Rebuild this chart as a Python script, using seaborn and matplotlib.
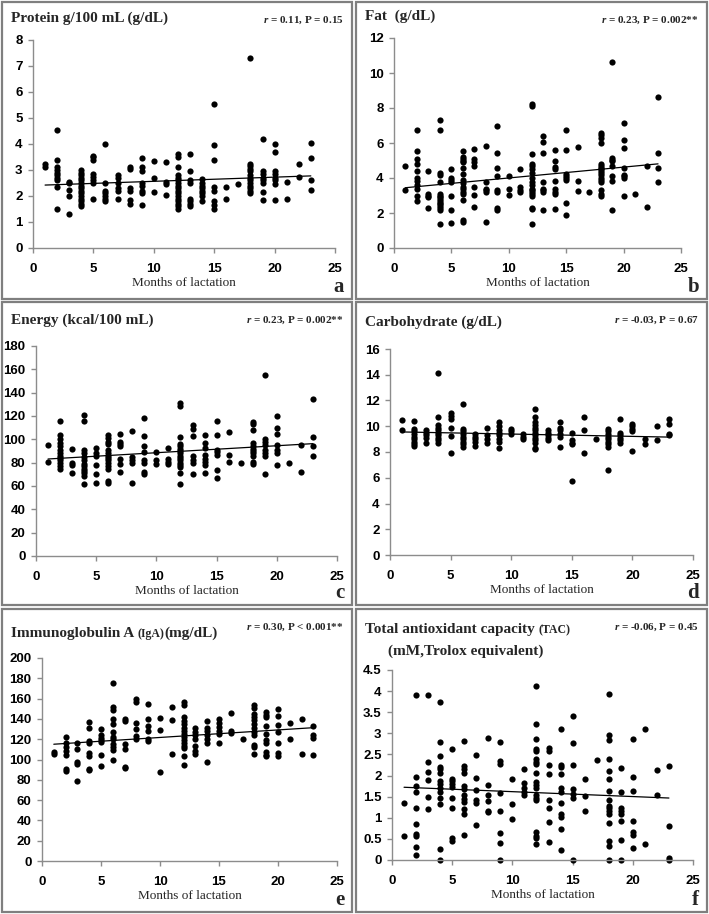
import numpy as np
import pandas as pd
import seaborn as sns
import matplotlib.pyplot as plt
from matplotlib.patches import Rectangle

# Values read per month of lactation
months = list(range(1, 24))

protein = [
    [3.25, 3.1], [4.55, 3.4, 3.1, 3.0, 2.9, 2.8, 2.7, 2.6, 2.35, 1.5], [2.55, 2.5, 2.25, 2.0, 1.3],
    [3.0, 2.9, 2.8, 2.7, 2.6, 2.5, 2.4, 2.3, 2.2, 2.1, 2.0, 1.9, 1.8, 1.7, 1.6],
    [3.55, 3.5, 3.4, 2.85, 2.75, 2.6, 2.5, 1.9], [4.0, 2.5, 2.2, 2.1, 2.0, 1.9, 1.8],
    [2.8, 2.7, 2.5, 2.3, 2.2, 1.9], [3.1, 3.05, 2.3, 2.2, 1.85, 1.7],
    [3.45, 3.1, 2.95, 2.5, 2.4, 2.2, 2.1, 1.65], [3.35, 2.7, 2.15], [3.3, 2.55, 2.45, 2.05],
    [3.6, 3.5, 3.1, 2.8, 2.7, 2.6, 2.5, 2.4, 2.3, 2.2, 2.1, 2.0, 1.9, 1.8, 1.7, 1.6, 1.5],
    [3.6, 2.95, 2.6, 2.5, 1.9, 1.8, 1.7, 1.6], [2.65, 2.5, 2.4, 2.3, 2.2, 2.1, 2.0, 1.8],
    [5.55, 3.95, 3.4, 2.35, 2.2, 1.8, 1.65, 1.5], [2.35, 1.9], [2.45],
    [7.3, 3.25, 3.15, 3.05, 2.95, 2.8, 2.7, 2.6, 2.5, 2.4, 2.3, 2.2, 2.1],
    [4.2, 2.95, 2.85, 2.7, 2.6, 2.5, 2.15, 1.85], [4.0, 3.7, 2.95, 2.85, 2.7, 2.6, 2.45, 1.85],
    [2.55, 1.9], [3.25, 2.75], [4.05, 3.45, 2.6, 2.25],
]

fat = [
    [4.7, 3.3], [6.75, 5.55, 5.1, 4.8, 4.4, 4.0, 3.85, 3.6, 3.35, 3.0, 2.7], [4.4, 3.1, 3.0, 2.9, 2.3],
    [7.3, 6.75, 4.3, 4.2, 3.8, 3.1, 3.0, 2.9, 2.8, 2.7, 2.6, 2.5, 2.4, 2.3, 2.2, 1.35],
    [4.5, 4.0, 3.9, 3.8, 3.0, 2.15, 1.45],
    [5.55, 5.2, 5.1, 5.0, 4.9, 4.6, 4.25, 3.9, 3.7, 3.5, 3.4, 3.2, 3.1, 2.75, 1.6, 1.5],
    [5.65, 5.1, 4.9, 4.7, 3.5, 3.05, 2.35], [5.85, 3.8, 3.4, 3.3, 3.2, 1.5],
    [7.0, 5.45, 4.6, 4.1, 3.3, 3.2, 2.3, 2.2], [4.1, 3.4, 3.05], [4.5, 3.5, 3.3, 3.2],
    [8.25, 8.1, 5.35, 4.8, 4.7, 4.5, 4.3, 4.0, 3.8, 3.6, 3.4, 3.3, 3.2, 3.1, 3.0, 2.3, 2.25, 1.4],
    [6.4, 6.05, 5.45, 3.8, 3.4, 3.3, 3.2, 2.2], [5.6, 5.0, 4.65, 4.5, 3.85, 3.4, 3.2, 3.1, 2.25],
    [6.75, 5.6, 4.25, 4.1, 4.0, 3.9, 2.6, 1.9], [5.75, 3.85, 3.25], [3.2],
    [6.6, 6.45, 6.3, 6.0, 4.8, 4.7, 4.6, 4.5, 4.4, 4.3, 4.2, 4.0, 3.9, 3.8, 3.3, 3.1, 3.0],
    [10.65, 5.15, 5.05, 4.95, 4.7, 4.1, 3.85, 2.15], [7.15, 6.15, 5.7, 4.6, 4.2, 4.1, 4.0, 3.0],
    [3.1], [4.7, 2.35], [8.65, 5.45, 4.6, 3.8],
]

energy = [
    [95, 81], [116, 104, 100, 97, 94, 91, 88, 86, 84, 82, 80, 77, 75], [92, 80, 78, 71],
    [121, 116, 91, 88, 85, 82, 79, 77, 75, 73, 71, 69, 62], [93, 88, 86, 78, 70, 63],
    [104, 101, 98, 96, 91, 88, 86, 84, 82, 80, 77, 75, 64, 63], [105, 98, 96, 94, 83, 79, 72],
    [107, 85, 82, 80, 63], [118, 103, 94, 89, 82, 80, 72, 70], [89, 82, 79], [93, 83, 81, 79],
    [131, 129, 102, 96, 94, 92, 90, 88, 86, 84, 82, 80, 78, 76, 71, 62],
    [112, 109, 103, 86, 82, 80, 70], [104, 97, 93, 87, 83, 81, 78, 71],
    [116, 104, 91, 89, 87, 74, 67], [106, 87, 81], [80],
    [115, 113, 108, 97, 94, 92, 90, 88, 86, 81, 79], [155, 100, 98, 95, 91, 88, 86, 70],
    [120, 110, 105, 95, 91, 88, 78], [80], [95, 72], [135, 102, 94, 86],
]

carbohydrate = [
    [10.5, 9.7], [10.4, 9.8, 9.6, 9.4, 9.2, 9.0, 8.8, 8.6, 8.5], [9.7, 9.5, 9.3, 9.1, 8.7],
    [14.1, 10.7, 10.1, 9.9, 9.7, 9.5, 9.3, 9.1, 8.9, 8.7], [11.0, 10.8, 10.6, 9.85, 9.25, 7.95],
    [11.7, 9.8, 9.6, 9.4, 9.2, 9.0, 8.8, 8.6, 8.4], [9.4, 9.2, 9.0, 8.8, 8.5], [9.9, 9.3, 9.0, 8.7],
    [10.3, 10.0, 9.7, 9.5, 9.3, 9.0, 8.8, 8.3], [9.8, 9.6, 9.4], [9.4, 9.2, 9.0],
    [11.35, 10.7, 10.3, 10.1, 9.9, 9.7, 9.5, 9.3, 9.1, 8.9, 8.7, 8.3, 8.2],
    [9.7, 9.5, 9.3, 9.1, 8.9], [10.3, 9.9, 9.7, 9.4, 9.2, 8.4], [9.5, 8.9, 8.7, 8.6, 5.75],
    [10.7, 9.7, 7.9], [9.0], [9.8, 9.6, 9.4, 9.2, 9.0, 8.8, 8.6, 8.4, 6.6],
    [10.6, 9.5, 9.3, 9.1, 8.9, 8.7], [10.2, 10.0, 9.8, 9.6, 8.05], [9.0, 8.65], [10.0, 8.95],
    [10.6, 10.2, 9.4, 9.3],
]

iga = [
    [107, 105], [122, 116, 112, 108, 104, 91, 89], [116, 110, 98, 96, 79],
    [137, 131, 118, 116, 106, 103, 91, 90], [130, 124, 121, 119, 117, 104, 94],
    [175, 152, 149, 140, 135, 127, 122, 120, 115, 112, 109, 100], [140, 138, 115, 110, 93, 92],
    [160, 157, 136, 130, 123, 120], [155, 140, 133, 128, 120, 118], [141, 129, 88], [152, 139, 105],
    [157, 154, 142, 138, 135, 131, 128, 125, 122, 119, 116, 113, 111, 103, 95],
    [131, 127, 124, 120, 113, 108, 105], [138, 131, 128, 124, 120, 116, 98],
    [140, 136, 132, 128, 125, 116], [146, 128, 126], [120],
    [154, 151, 145, 142, 139, 135, 131, 127, 124, 114, 112, 105],
    [147, 144, 142, 133, 125, 119, 116, 107, 104, 103], [150, 143, 134, 127, 116, 106, 103],
    [136, 120], [140, 105], [133, 124, 121, 104],
]

tac = [
    [1.35, 0.57], [3.9, 1.97, 1.75, 1.6, 1.23, 0.86, 0.62, 0.57, 0.3, 0.13],
    [3.9, 2.32, 2.08, 1.9, 1.5, 1.21],
    [3.75, 2.8, 2.46, 2.2, 2.15, 2.05, 1.87, 1.8, 1.7, 1.62, 1.48, 1.33, 0.26, 0.0],
    [2.62, 1.93, 1.87, 1.8, 1.72, 1.47, 1.24, 0.52, 0.46],
    [2.82, 2.23, 2.15, 2.05, 1.75, 1.68, 1.55, 1.45, 1.37, 1.2, 1.08, 0.6],
    [2.48, 1.94, 1.65, 1.43, 1.35, 0.82], [2.9, 1.77, 1.53, 1.4, 1.17, 1.13],
    [2.79, 2.35, 2.28, 1.58, 1.16, 0.63, 0.41, 0.0], [1.92, 1.33, 0.96], [2.16, 1.82, 1.7, 1.62, 1.55],
    [4.12, 3.21, 2.87, 2.62, 2.57, 2.4, 2.33, 2.28, 2.05, 1.85, 1.78, 1.7, 1.55, 1.47, 1.42,
     0.66, 0.58, 0.52, 0.37],
    [2.66, 2.57, 2.26, 2.04, 1.42, 1.23, 0.9, 0.43],
    [3.1, 2.26, 2.2, 2.03, 1.7, 1.6, 1.35, 1.1, 1.03, 0.74, 0.23],
    [3.41, 2.77, 2.26, 1.68, 1.57, 1.48, 0.0], [1.92, 1.52, 1.16], [2.36],
    [3.93, 2.97, 2.84, 2.4, 2.1, 1.93, 1.63, 1.42, 1.28, 1.22, 1.15, 1.1, 0.88, 0.45, 0.32, 0.0],
    [2.17, 1.6, 1.22, 1.16, 1.1, 0.93, 0.47, 0.0], [2.87, 1.97, 1.64, 0.93, 0.66, 0.6, 0.29],
    [3.1, 0.38], [2.14, 1.53], [2.23, 0.8, 0.04, 0.0],
]

stats = ['= 0.11, P = 0.15', '= 0.23, P = 0.002**', '= 0.23, P = 0.002**',
         '= -0.03, P = 0.67', '= 0.30, P < 0.001**', '= -0.06, P = 0.45']
letters = ['a', 'b', 'c', 'd', 'e', 'f']
y_limits = [(0, 8, 1), (0, 12, 2), (0, 180, 20), (0, 16, 2), (0, 200, 20), (0, 4.5, 0.5)]


def to_frame(values):
    rows = [(m, v) for m, vals in zip(months, values) for v in vals]
    return pd.DataFrame(rows, columns=['month', 'value'])


sns.set_style('ticks')
plt.rcParams['mathtext.fontset'] = 'custom'
plt.rcParams['mathtext.it'] = 'Liberation Serif:italic:bold'
plt.rcParams['mathtext.rm'] = 'Liberation Serif:bold'

W, H = 709, 914
fig = plt.figure(figsize=(W / 100, H / 100), dpi=100)

# panel boxes (pixels: left, top, right, bottom)
boxes = [(2, 2, 352, 299), (356, 2, 707, 299),
         (2, 302, 352, 605), (356, 302, 707, 605),
         (2, 609, 352, 912), (356, 609, 707, 912)]
# axes areas (pixels: left, top, right, bottom)
areas = [(33, 40, 335, 248), (394, 38, 681, 248),
         (36, 346, 337, 556), (390, 349, 693, 555),
         (42, 658, 337, 861), (392, 670, 693, 860)]

for bx in boxes:
    fig.patches.append(Rectangle((bx[0] / W, 1 - bx[3] / H), (bx[2] - bx[0]) / W, (bx[3] - bx[1]) / H,
                                 transform=fig.transFigure, fill=False, edgecolor='#7f7f7f', linewidth=1.6))

datasets = [protein, fat, energy, carbohydrate, iga, tac]
serif = 'Liberation Serif'
tick_font = dict(fontfamily='Liberation Sans', fontweight='bold', fontsize=9.5)
for i, (data, area, bx) in enumerate(zip(datasets, areas, boxes)):
    l, t, r, b = area
    ax = fig.add_axes([l / W, 1 - b / H, (r - l) / W, (b - t) / H])
    df = to_frame(data)
    sns.regplot(data=df, x='month', y='value', ax=ax, ci=None, color='black',
                scatter_kws={'s': 20, 'linewidths': 0, 'alpha': 1},
                line_kws={'linewidth': 0.9, 'color': 'black'})
    lo, hi, step = y_limits[i]
    ax.set_xlim(0, 25)
    ax.set_ylim(lo, hi)
    ax.set_xlabel('')
    ax.set_ylabel('')
    for c in ax.collections:
        c.set_clip_on(False)
    sns.despine(ax=ax)
    for s in ['left', 'bottom']:
        ax.spines[s].set_color('#8c8c8c')
        ax.spines[s].set_linewidth(1.0)
    ax.tick_params(colors='#8c8c8c', length=3.5, width=1.0, labelcolor='black')
    ax.tick_params(axis='x', pad=7)
    ax.tick_params(axis='y', pad=4)
    xt = list(range(0, 26, 5))
    yt = np.arange(lo, hi + step / 2, step)
    ax.set_xticks(xt, [str(v) for v in xt], **tick_font)
    ax.set_yticks(yt, [f'{v:g}' for v in yt], **tick_font)

    # x label and panel letter
    cx = (l + r) / 2
    fig.text(cx / W, 1 - (b + 35) / H, 'Months of lactation', ha='center', va='center',
             family=serif, fontsize=9.5)
    fig.text((bx[2] - 8) / W, 1 - (bx[3] - 12) / H, letters[i], ha='right', va='center',
             family=serif, fontsize=15, fontweight='bold')
    fig.text((bx[2] - 8) / W, 1 - (bx[1] + 18) / H, r'$r$ ' + stats[i], ha='right', va='center',
             family=serif, fontsize=8, fontweight='bold')

# titles
def title(ix, s, dy=15):
    bx = boxes[ix]
    return fig.text((bx[0] + 9) / W, 1 - (bx[1] + dy) / H, s, ha='left', va='baseline',
                    family=serif, fontsize=11, fontweight='bold')

title(0, 'Protein g/100 mL (g/dL)', 20)
title(1, 'Fat  (g/dL)', 18)
title(2, 'Energy (kcal/100 mL)', 22)
title(3, 'Carbohydrate (g/dL)', 24)
t_e = title(4, 'Immunoglobulin A ', 28)
t_f = title(5, 'Total antioxidant capacity ', 24)
fig.canvas.draw()
rend = fig.canvas.get_renderer()
bb = t_e.get_window_extent(rend)
t_e2 = fig.text(bb.x1 / W, 1 - (boxes[4][1] + 28) / H, '(IgA)', family=serif, fontsize=8.5,
                fontweight='bold')
bb2 = t_e2.get_window_extent(rend)
fig.text(bb2.x1 / W, 1 - (boxes[4][1] + 28) / H, '(mg/dL)', family=serif, fontsize=11,
         fontweight='bold')
bb = t_f.get_window_extent(rend)
fig.text(bb.x1 / W, 1 - (boxes[5][1] + 24) / H, '(TAC)', family=serif, fontsize=8.5,
         fontweight='bold')
fig.text((boxes[5][0] + 32) / W, 1 - (boxes[5][1] + 46) / H, '(mM,Trolox equivalent)', family=serif,
         fontsize=11, fontweight='bold')

fig.savefig('out.png', dpi=100, facecolor='white')
